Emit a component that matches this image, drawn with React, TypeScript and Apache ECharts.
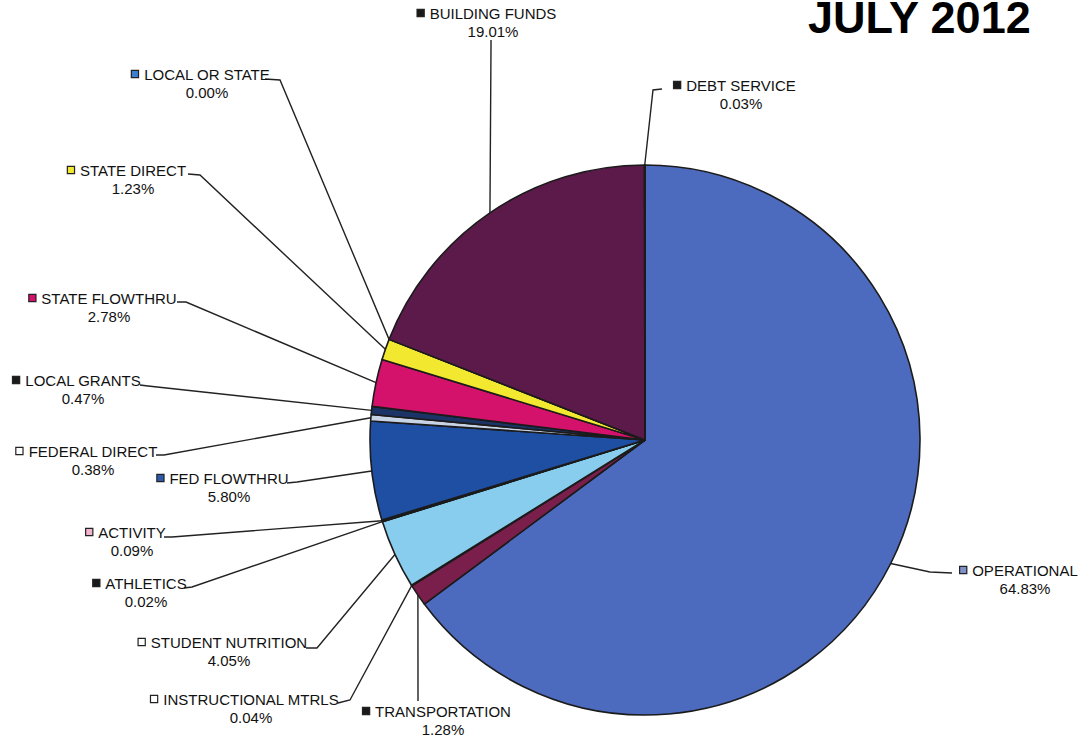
import React, { useEffect, useRef } from 'react';
import * as echarts from 'echarts';

const categories = [
  'OPERATIONAL', 'TRANSPORTATION', 'INSTRUCTIONAL MTRLS', 'STUDENT NUTRITION', 'ATHLETICS',
  'ACTIVITY', 'FED FLOWTHRU', 'FEDERAL DIRECT', 'LOCAL GRANTS', 'STATE FLOWTHRU',
  'STATE DIRECT', 'LOCAL OR STATE', 'BUILDING FUNDS', 'DEBT SERVICE',
];
const values = [64.83, 1.28, 0.04, 4.05, 0.02, 0.09, 5.80, 0.38, 0.47, 2.78, 1.23, 0.00, 19.01, 0.03];
const sliceColors = [
  '#4d6bbe', '#7a1f4b', '#f4f4f4', '#88cdee', '#222222', '#f0a8c8', '#1f4fa3',
  '#c9d3e6', '#1c3365', '#d5126b', '#f2e830', '#3b6fc4', '#5b1a4a', '#222222',
];
const markerColors = [
  '#7f92c8', '#1a1a1a', '#ffffff', '#ffffff', '#1a1a1a', '#f0b4cc', '#2d5aa8',
  '#ffffff', '#1a1a1a', '#d5126b', '#f2e830', '#3b7fd0', '#1a1a1a', '#1a1a1a',
];

// label layout (name-centre x, block-centre y), leader elbow, leader end
const labelPos = [
  [1025, 579], [443, 720], [251, 708], [229, 651], [146, 592], [132, 541], [229, 487],
  [93, 460], [83, 389], [109, 307], [133, 179], [207, 83], [493, 22], [741, 94],
];
const lineElbow = [
  [930, 572], [418, 690], [350, 700], [317, 648], [192, 587], [172, 537], [297, 482],
  [164, 455], [148, 386], [186, 302], [200, 175], [280, 80], [491, 46], [653, 90],
];
const lineEnd = [
  [952, 573], [418, 701], [338, 703], [306, 648], [184, 588], [164, 537], [287, 483],
  [156, 455], [140, 385], [177, 302], [188, 174], [265, 79], [491, 40], [662, 89],
];

const CX = 645;
const CY = 440;
const R = 275;
const FONT = '"Liberation Sans", Arial, Helvetica, sans-serif';

export default function App() {
  const ref = useRef<HTMLDivElement>(null);
  useEffect(() => {
    if (!ref.current) return;
    const chart = echarts.init(ref.current, null, { renderer: 'svg' });
    const total = values.reduce((a, b) => a + b, 0);
    const cum: number[] = [];
    let acc = 0;
    values.forEach((v) => { cum.push(acc + v / 2); acc += v; });

    const data = categories.map((name, i) => ({
      name,
      value: values[i],
      itemStyle: { color: sliceColors[i] },
      label: {
        rich: {
          m: { width: 6, height: 6, backgroundColor: markerColors[i], borderColor: '#222', borderWidth: 1.2 },
          g: { width: 6 },
          s: { width: 12 },
          n: { fontSize: 15, color: '#111', fontFamily: FONT, lineHeight: 18 },
          p: { fontSize: 15, color: '#111', fontFamily: FONT, lineHeight: 18 },
        },
      },
    }));

    chart.setOption({
      animation: false,
      backgroundColor: '#ffffff',
      graphic: [
        {
          type: 'text',
          x: 808,
          y: 0,
          style: {
            text: 'JULY 2012',
            font: `bold 45px ${FONT}`,
            lineHeight: 34,
            fill: '#000',
            verticalAlign: 'top',
            align: 'left',
          },
        },
      ],
      series: [
        {
          type: 'pie',
          center: [CX, CY],
          radius: R,
          startAngle: 90,
          clockwise: true,
          avoidLabelOverlap: false,
          data,
          itemStyle: { borderColor: '#1b1b1b', borderWidth: 1.6 },
          emphasis: { disabled: true },
          label: {
            show: true,
            position: 'outside',
            formatter: (p: any) => `{m|}{g|}{n|${p.name}}{s|}\n{p|${Number(p.value).toFixed(2)}%}`,
          },
          labelLine: { show: true, lineStyle: { color: '#222', width: 1.4 } },
          labelLayout: (params: any) => {
            const i = params.dataIndex;
            let start: number[];
            if (params.labelLinePoints && params.labelLinePoints[0]) {
              start = [params.labelLinePoints[0][0], params.labelLinePoints[0][1]];
            } else {
              const a = (cum[i] / total) * Math.PI * 2;
              start = [CX + R * Math.sin(a), CY - R * Math.cos(a)];
            }
            return {
              x: labelPos[i][0],
              y: labelPos[i][1],
              align: 'center',
              verticalAlign: 'middle',
              labelLinePoints: [start, lineElbow[i], lineEnd[i]],
            };
          },
        },
      ],
    });
    return () => chart.dispose();
  }, []);
  return (
    <div
      ref={ref}
      style={{ position: 'fixed', left: 0, top: 0, width: 1083, height: 743, background: '#fff' }}
    />
  );
}
